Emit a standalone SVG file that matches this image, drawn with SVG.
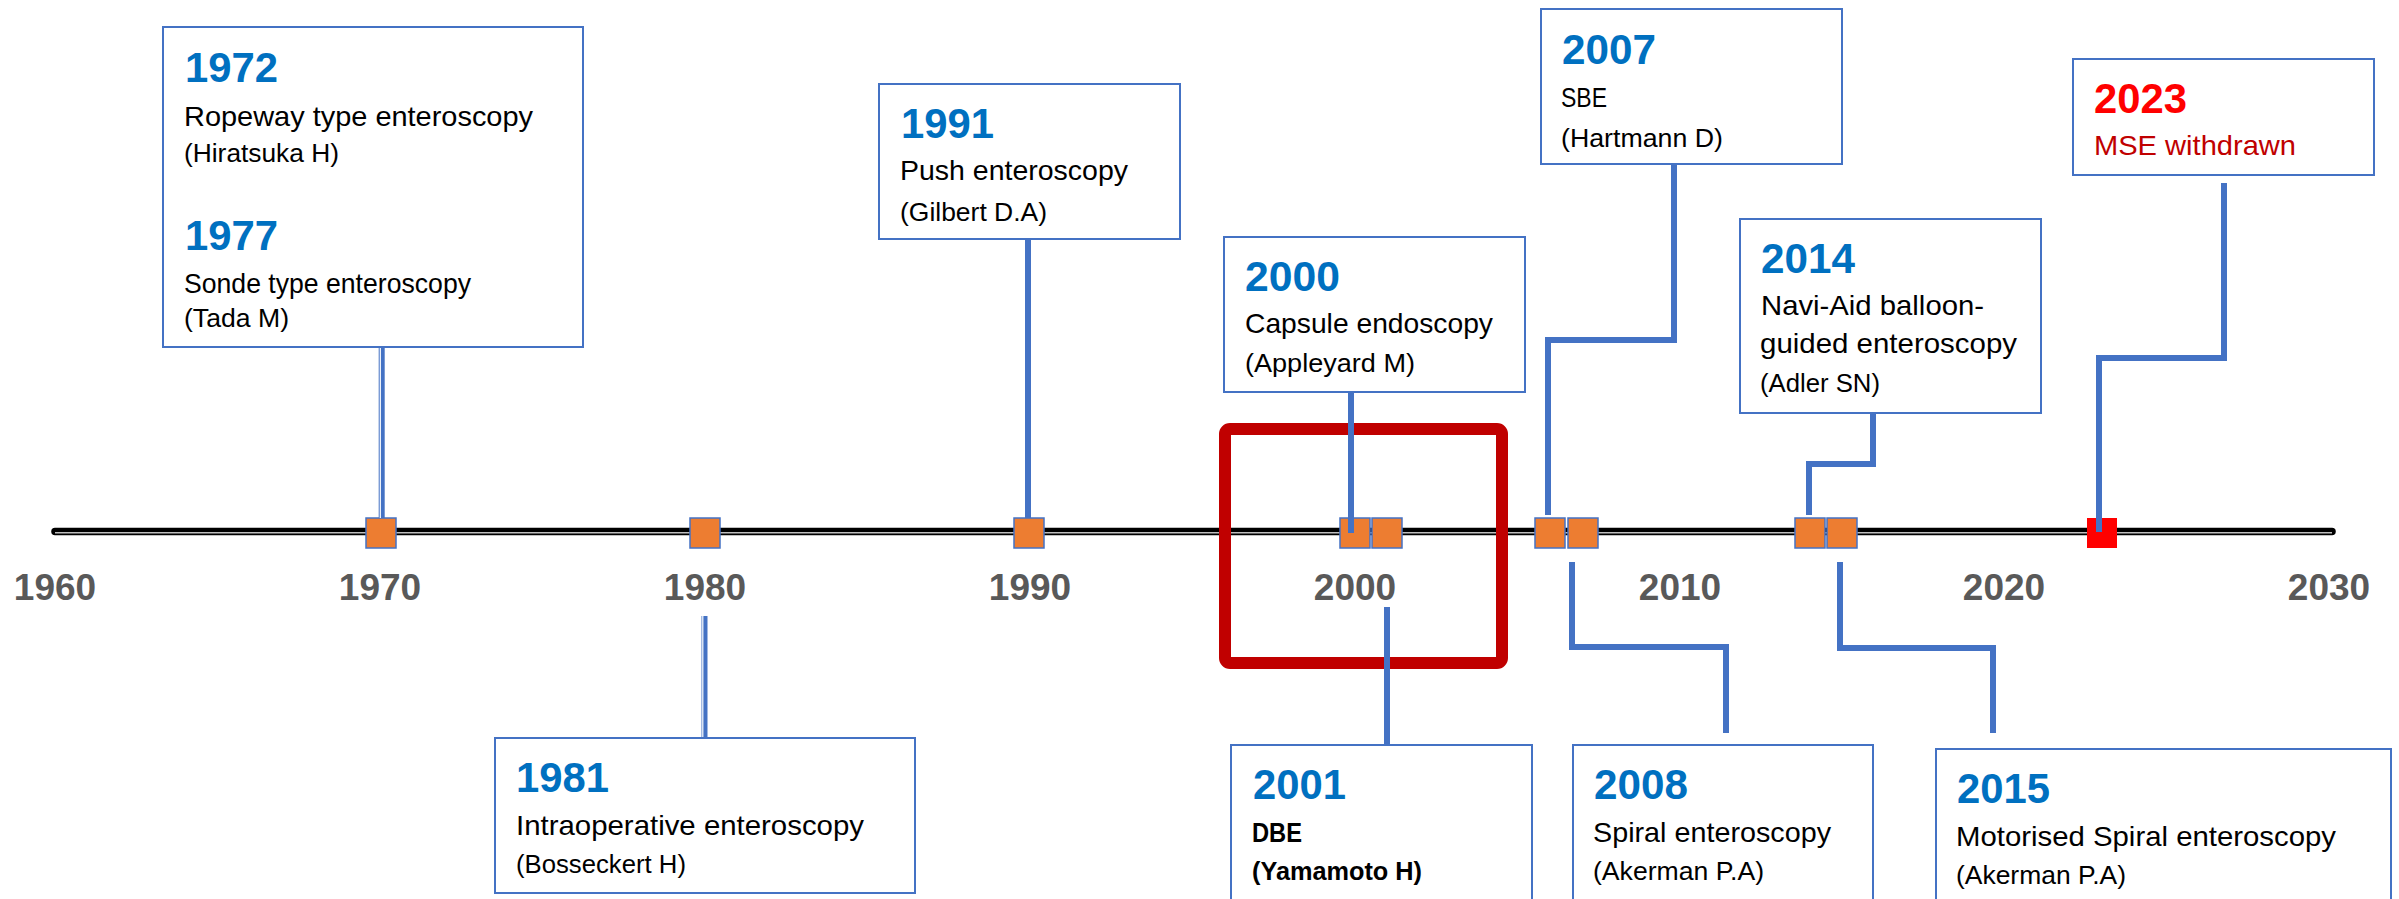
<svg xmlns="http://www.w3.org/2000/svg" width="2399" height="899" viewBox="0 0 2399 899">
<style>
.box{fill:#fff;stroke:#4472C4;stroke-width:2}
.yr{font-family:"Liberation Sans",Arial,sans-serif;font-weight:bold;font-size:42px;fill:#0070C0}
.tx{font-family:"Liberation Sans",Arial,sans-serif;font-size:28.5px;fill:#000}
.au{font-family:"Liberation Sans",Arial,sans-serif;font-size:26.5px;fill:#000}
.b{font-weight:bold}
.ax{font-family:"Liberation Sans",Arial,sans-serif;font-weight:bold;font-size:37px;fill:#595959;text-anchor:middle}
.mk{fill:#ED7D31;stroke:#4472C4;stroke-width:1.5}
.cn{fill:none;stroke:#4472C4;stroke-width:6}
.gap{stroke:#fff;stroke-width:1.2}
</style>
<rect width="2399" height="899" fill="#fff"/>
<g id="timeline">
<line x1="55" y1="531.5" x2="2332" y2="531.5" stroke="#000" stroke-width="7.5" stroke-linecap="round"/>
<line x1="55" y1="532.8" x2="2332" y2="532.8" stroke="#BFBFBF" stroke-width="1.5"/>
</g>
<g id="axis-labels">
<text class="ax" x="55" y="600">1960</text>
<text class="ax" x="380" y="600">1970</text>
<text class="ax" x="705" y="600">1980</text>
<text class="ax" x="1030" y="600">1990</text>
<text class="ax" x="1355" y="600">2000</text>
<text class="ax" x="1680" y="600">2010</text>
<text class="ax" x="2004" y="600">2020</text>
<text class="ax" x="2329" y="600">2030</text>
</g>
<g id="highlight">
<rect x="1225" y="429" width="277" height="234" rx="5" fill="none" stroke="#C00000" stroke-width="12"/>
</g>
<g id="markers">
<rect class="mk" x="366" y="518" width="30" height="30"/>
<rect class="mk" x="690" y="518" width="30" height="30"/>
<rect class="mk" x="1014" y="518" width="30" height="30"/>
<rect class="mk" x="1340" y="518" width="30" height="30"/>
<rect class="mk" x="1372" y="518" width="30" height="30"/>
<rect class="mk" x="1535" y="518" width="30" height="30"/>
<rect class="mk" x="1568" y="518" width="30" height="30"/>
<rect class="mk" x="1795" y="518" width="30" height="30"/>
<rect class="mk" x="1827" y="518" width="30" height="30"/>
<rect x="2087" y="518" width="30" height="30" fill="#FF0000"/>
</g>
<g id="connectors">
<line class="cn" x1="381.7" y1="347" x2="381.7" y2="518"/>
<line class="gap" x1="380.3" y1="347" x2="380.3" y2="518"/>
<line class="cn" x1="704.5" y1="616" x2="704.5" y2="738"/>
<line class="gap" x1="702.8" y1="616" x2="702.8" y2="738"/>
<line class="cn" x1="1028" y1="239" x2="1028" y2="518"/>
<line class="cn" x1="1351" y1="392" x2="1351" y2="533"/>
<line class="cn" x1="1387" y1="607" x2="1387" y2="748"/>
<path class="cn" d="M1674,164 V340 H1548 V515"/>
<path class="cn" d="M1572,562 V647 H1726 V733"/>
<path class="cn" d="M1873,413 V464 H1809 V515"/>
<path class="cn" d="M1840,562 V648 H1993 V733"/>
<path class="cn" d="M2224,183 V358 H2099 V532"/>
</g>
<g id="node-1972-1977">
<rect class="box" x="163" y="27" width="420" height="320"/>
<text class="yr" x="185" y="82" textLength="93" lengthAdjust="spacingAndGlyphs">1972</text>
<text class="tx" x="184" y="126" textLength="349" lengthAdjust="spacingAndGlyphs">Ropeway type enteroscopy</text>
<text class="au" x="184" y="162" textLength="155" lengthAdjust="spacingAndGlyphs">(Hiratsuka H)</text>
<text class="yr" x="185" y="250" textLength="93" lengthAdjust="spacingAndGlyphs">1977</text>
<text class="tx" x="184" y="293" textLength="287" lengthAdjust="spacingAndGlyphs">Sonde type enteroscopy</text>
<text class="au" x="184" y="327" textLength="105" lengthAdjust="spacingAndGlyphs">(Tada M)</text>
</g>
<g id="node-1991">
<rect class="box" x="879" y="84" width="301" height="155"/>
<text class="yr" x="901" y="138" textLength="93" lengthAdjust="spacingAndGlyphs">1991</text>
<text class="tx" x="900" y="180" textLength="228" lengthAdjust="spacingAndGlyphs">Push enteroscopy</text>
<text class="au" x="900" y="221" textLength="147" lengthAdjust="spacingAndGlyphs">(Gilbert D.A)</text>
</g>
<g id="node-2000">
<rect class="box" x="1224" y="237" width="301" height="155"/>
<text class="yr" x="1245" y="291" textLength="95" lengthAdjust="spacingAndGlyphs">2000</text>
<text class="tx" x="1245" y="333" textLength="248" lengthAdjust="spacingAndGlyphs">Capsule endoscopy</text>
<text class="au" x="1245" y="372" textLength="170" lengthAdjust="spacingAndGlyphs">(Appleyard M)</text>
</g>
<g id="node-2007">
<rect class="box" x="1541" y="9" width="301" height="155"/>
<text class="yr" x="1562" y="64" textLength="94" lengthAdjust="spacingAndGlyphs">2007</text>
<text class="tx" x="1561" y="107" textLength="46" lengthAdjust="spacingAndGlyphs">SBE</text>
<text class="au" x="1561" y="147" textLength="162" lengthAdjust="spacingAndGlyphs">(Hartmann D)</text>
</g>
<g id="node-2014">
<rect class="box" x="1740" y="219" width="301" height="194"/>
<text class="yr" x="1761" y="273" textLength="94" lengthAdjust="spacingAndGlyphs">2014</text>
<text class="tx" x="1761" y="315" textLength="223" lengthAdjust="spacingAndGlyphs">Navi-Aid balloon-</text>
<text class="tx" x="1760" y="353" textLength="257" lengthAdjust="spacingAndGlyphs">guided enteroscopy</text>
<text class="au" x="1760" y="392" textLength="120" lengthAdjust="spacingAndGlyphs">(Adler SN)</text>
</g>
<g id="node-2023">
<rect class="box" x="2073" y="59" width="301" height="116"/>
<text class="yr" x="2094" y="113" textLength="93" lengthAdjust="spacingAndGlyphs" style="fill:#FF0000">2023</text>
<text class="tx" x="2094" y="155" textLength="202" lengthAdjust="spacingAndGlyphs" style="fill:#C00000">MSE withdrawn</text>
</g>
<g id="node-1981">
<rect class="box" x="495" y="738" width="420" height="155"/>
<text class="yr" x="516" y="792" textLength="93" lengthAdjust="spacingAndGlyphs">1981</text>
<text class="tx" x="516" y="835" textLength="348" lengthAdjust="spacingAndGlyphs">Intraoperative enteroscopy</text>
<text class="au" x="516" y="873" textLength="170" lengthAdjust="spacingAndGlyphs">(Bosseckert H)</text>
</g>
<g id="node-2001">
<rect class="box" x="1231" y="745" width="301" height="170"/>
<text class="yr" x="1253" y="799" textLength="93" lengthAdjust="spacingAndGlyphs">2001</text>
<text class="tx b" x="1252" y="842" textLength="50" lengthAdjust="spacingAndGlyphs">DBE</text>
<text class="au b" x="1252" y="880" textLength="170" lengthAdjust="spacingAndGlyphs">(Yamamoto H)</text>
</g>
<g id="node-2008">
<rect class="box" x="1573" y="745" width="300" height="170"/>
<text class="yr" x="1594" y="799" textLength="94" lengthAdjust="spacingAndGlyphs">2008</text>
<text class="tx" x="1593" y="842" textLength="238" lengthAdjust="spacingAndGlyphs">Spiral enteroscopy</text>
<text class="au" x="1593" y="880" textLength="171" lengthAdjust="spacingAndGlyphs">(Akerman P.A)</text>
</g>
<g id="node-2015">
<rect class="box" x="1936" y="749" width="455" height="170"/>
<text class="yr" x="1957" y="803" textLength="93" lengthAdjust="spacingAndGlyphs">2015</text>
<text class="tx" x="1956" y="846" textLength="380" lengthAdjust="spacingAndGlyphs">Motorised Spiral enteroscopy</text>
<text class="au" x="1956" y="884" textLength="170" lengthAdjust="spacingAndGlyphs">(Akerman P.A)</text>
</g>
</svg>
